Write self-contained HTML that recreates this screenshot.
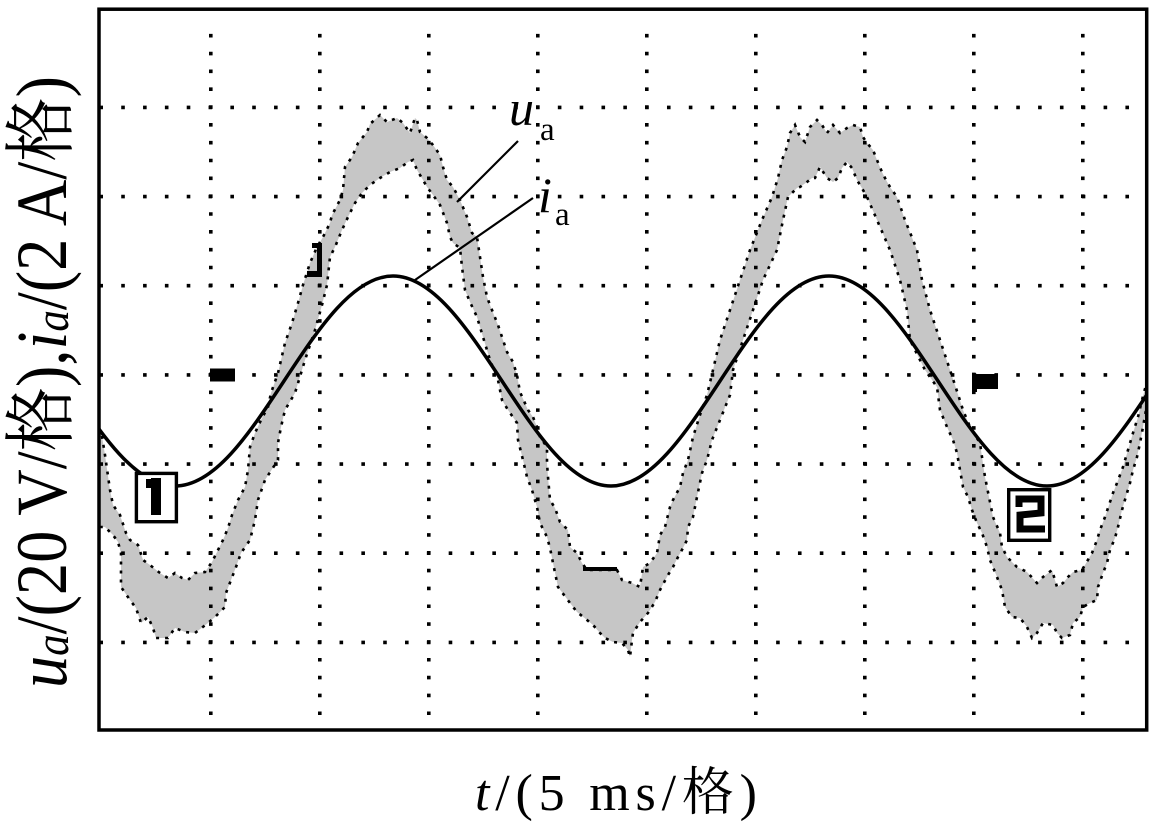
<!DOCTYPE html>
<html><head><meta charset="utf-8"><style>
html,body{margin:0;padding:0;background:#fff;}
svg{display:block;}
</style></head><body>
<svg width="1155" height="831" viewBox="0 0 1155 831" xmlns="http://www.w3.org/2000/svg">
<defs><clipPath id="c"><rect x="100" y="11" width="1045" height="718"/></clipPath></defs>
<rect width="1155" height="831" fill="#fff"/>
<g clip-path="url(#c)">
<polygon fill="#c6c6c6" stroke="#000" stroke-width="2.6" stroke-dasharray="3 6" points="
98,430 101,430 105,455 110,490 113,505 120,515 126,533 130,540 138,545 143,560 150,565 160,573 168,578 175,573 182,578 188,580 195,573 205,572 212,562 218,550 223,540 228,528 232,515 238,500 245,487 248,470 250,447 255,433 261,420 268,407 271,393 278,373 285,343 292,323 298,303 303,285 310,263 317,247 323,237 330,223 332,215 340,200 343,190 345,167 352,157 358,143 367,132 370,124 380,115 387,122 397,118 403,123 410,133 415,118 417,120 420,132 427,138 433,145 440,155 443,167 447,180 453,187 460,200 467,217 472,233 477,237 480,257 483,277 487,297 490,305 498,325 507,352 513,362 517,375 520,392 528,410 533,417 537,427 540,437 547,447 547,463 548,477 550,500 555,508 560,522 568,530 570,547 577,553 582,563 587,570 617,570 622,580 632,583 640,587 643,567 650,563 657,553 660,535 665,527 670,507 673,500 680,487 683,473 688,460 693,437 700,415 707,395 713,370 720,340 730,310 740,280 750,250 762,220 772,197 778,178 782,160 787,147 790,133 795,125 800,137 805,142 810,127 817,120 822,125 827,133 833,125 840,133 847,128 853,125 860,127 863,137 867,143 873,150 877,160 882,172 885,178 890,187 897,197 905,220 917,250 922,280 930,310 940,340 950,370 955,385 963,410 970,427 980,443 982,457 985,477 988,492 993,517 1000,533 1002,547 1007,557 1017,567 1027,572 1037,583 1043,577 1052,570 1057,587 1063,583 1068,577 1073,572 1082,570 1092,553 1097,540 1100,530 1105,517 1108,508 1113,493 1117,483 1123,467 1128,450 1133,433 1138,417 1142,400 1146,385 1150,380
1150,405 1146,410 1143,427 1140,443 1137,457 1133,470 1130,483 1127,493 1122,510 1118,527 1115,538 1110,550 1107,563 1103,573 1098,587 1097,600 1090,603 1083,607 1080,617 1073,623 1070,635 1062,638 1057,633 1053,625 1043,623 1037,633 1032,638 1027,627 1020,618 1012,617 1005,607 1002,590 997,577 990,560 987,547 982,533 977,523 972,510 968,497 963,487 960,470 957,453 953,440 947,427 940,410 937,387 925,370 910,340 907,310 900,280 890,250 877,220 867,197 863,190 857,180 852,168 847,162 842,168 838,178 833,182 827,178 820,167 815,178 812,178 807,182 800,187 797,188 788,197 783,220 777,250 763,280 753,310 743,340 733,370 730,395 720,420 712,440 707,460 702,473 697,497 693,517 688,527 687,540 683,548 678,557 673,567 668,575 660,590 655,602 648,613 640,622 633,633 632,640 630,657 628,650 622,643 613,642 605,638 600,633 593,625 587,620 577,612 570,603 558,587 553,563 550,548 547,537 540,523 537,507 532,490 527,477 523,460 518,440 517,423 508,410 502,400 498,380 490,360 483,337 477,317 470,302 465,290 462,267 460,248 453,243 450,237 447,223 440,205 433,195 427,187 423,180 417,170 413,160 408,162 400,168 390,172 380,178 370,185 362,193 355,203 348,217 342,230 335,247 330,257 327,285 322,305 315,330 305,360 295,393 285,410 281,427 278,443 278,460 265,480 258,500 255,520 250,540 241,553 236,567 231,580 226,593 225,607 215,617 208,623 195,633 185,632 175,628 168,638 156,638 153,628 148,617 141,623 136,608 130,600 121,587 121,553 118,542 113,535 105,527 98,527"/>
</g>
<!-- grid -->
<g stroke="#000" stroke-width="3.6" fill="none">
<g stroke-dasharray="3.6 18.23">
<line x1="99.4" y1="107.4" x2="1146" y2="107.4"/>
<line x1="99.4" y1="196.6" x2="1146" y2="196.6"/>
<line x1="99.4" y1="285.7" x2="1146" y2="285.7"/>
<line x1="99.4" y1="374.9" x2="1146" y2="374.9"/>
<line x1="99.4" y1="464.1" x2="1146" y2="464.1"/>
<line x1="99.4" y1="553.2" x2="1146" y2="553.2"/>
<line x1="99.4" y1="642.4" x2="1146" y2="642.4"/>
</g>
<g stroke-dasharray="3.6 14.23">
<line x1="210.8" y1="33.9" x2="210.8" y2="717"/>
<line x1="319.8" y1="33.9" x2="319.8" y2="717"/>
<line x1="428.8" y1="33.9" x2="428.8" y2="717"/>
<line x1="537.8" y1="33.9" x2="537.8" y2="717"/>
<line x1="646.8" y1="33.9" x2="646.8" y2="717"/>
<line x1="755.8" y1="33.9" x2="755.8" y2="717"/>
<line x1="864.8" y1="33.9" x2="864.8" y2="717"/>
<line x1="973.8" y1="33.9" x2="973.8" y2="717"/>
<line x1="1082.8" y1="33.9" x2="1082.8" y2="717"/>
</g>
</g>
<!-- i_a -->
<g clip-path="url(#c)">
<path fill="none" stroke="#000" stroke-width="3.5" d="M66,381 C101.5,434.8 135.6,486 175,486 C214.4,486 248.5,434.8 284,381 C319.5,327.2 353.6,276 393,276 C432.4,276 466.5,327.2 502,381 C537.5,434.8 571.6,486 611,486 C650.4,486 684.5,434.8 720,381 C755.5,327.2 789.6,276 829,276 C868.4,276 902.5,327.2 938,381 C973.5,434.8 1007.6,486 1047,486 C1086.4,486 1120.5,434.8 1156,381"/>
</g>
<!-- misc marks -->
<g fill="#000">
<rect x="317" y="243" width="5" height="34"/>
<rect x="307" y="271" width="15" height="6"/>
<rect x="312" y="243" width="10" height="5"/>
<rect x="583" y="567" width="34" height="4"/>
<rect x="210" y="368.5" width="25" height="13"/>
<rect x="972" y="374" width="26" height="15"/>
<rect x="972" y="388" width="5" height="4"/>
</g>
<!-- marker 1 -->
<rect x="136.4" y="473.4" width="40" height="48.3" fill="#fff" stroke="#000" stroke-width="3.4"/>
<rect x="151" y="478" width="10" height="37" fill="#000"/>
<rect x="146" y="479" width="8" height="9" fill="#000"/>
<!-- marker 2 -->
<rect x="1008.7" y="489.7" width="41" height="50.6" fill="#fff" stroke="#000" stroke-width="3.4"/>
<path d="M1019,507 L1019,499 L1041,499 L1041,513 L1020,515 L1020,529 L1045,529" fill="none" stroke="#000" stroke-width="7"/>
<!-- frame -->
<rect x="99" y="9.2" width="1047.7" height="720.8" fill="none" stroke="#000" stroke-width="3.5"/>
<!-- leader lines -->
<line x1="518" y1="141" x2="457" y2="202" stroke="#000" stroke-width="2.2"/>
<line x1="533" y1="198" x2="415" y2="280" stroke="#000" stroke-width="2.2"/>
<!-- annotations -->
<g font-family="'Liberation Serif','Noto Serif CJK SC',serif" fill="#000">
<text x="509" y="125" font-size="50" font-style="italic">u</text>
<text x="540" y="140" font-size="33">a</text>
<text x="538" y="212" font-size="50" font-style="italic">i</text>
<text x="555" y="225" font-size="33">a</text>
<text x="475" y="810" font-size="52" textLength="282" lengthAdjust="spacing"><tspan font-style="italic">t</tspan>/(5 ms/格)</text>
<text transform="translate(66,688) rotate(-90)" font-size="72" textLength="612" lengthAdjust="spacingAndGlyphs"><tspan font-style="italic">u</tspan><tspan font-size="48" font-style="italic" dy="2">a</tspan><tspan dy="-2">/(20 V/格),</tspan><tspan font-style="italic">i</tspan><tspan font-size="48" font-style="italic" dy="2">a</tspan><tspan dy="-2">/(2 A/格)</tspan></text>
</g>
</svg>
</body></html>
